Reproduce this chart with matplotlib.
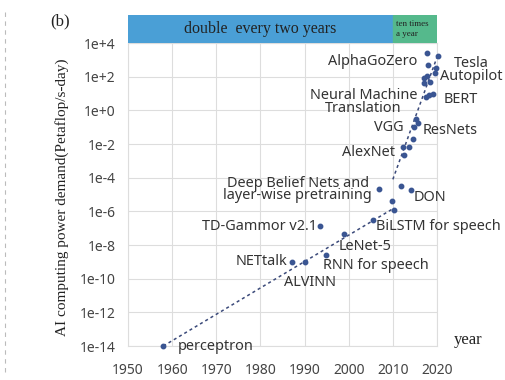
from matplotlib import pyplot as plt
from matplotlib.lines import Line2D
import numpy as np

# (year, log10 of petaflop/s-days) for every dot
dot_years = [1958, 1987.2, 1990, 1994.8, 1998.9, 1993.4, 2005.5, 2010.3, 2009.7,
             2006.8, 2011.9, 2014.2, 2012.2, 2013.7, 2012.6, 2014.6,
             2014.8, 2015.7, 2015.3, 2017.6, 2018.3, 2019.0,
             2017.1, 2017.8, 2018.5, 2019.5, 2017.1, 2019.8,
             2017.7, 2020.2, 2018.0]
dot_logs = [-14.0, -9.0, -9.0, -8.6, -7.35, -6.9, -6.5, -5.9, -5.4,
            -4.7, -4.5, -4.73, -2.16, -2.16, -2.65, -1.72,
            -1.0, -0.75, -0.5, 0.8, 0.9, 0.95,
            1.9, 2.05, 1.7, 2.2, 1.6, 2.5,
            3.4, 3.2, 2.7]

# two trend segments
trend1_years = [1958, 2010.3]
trend1_logs = [-14.0, -5.8]
trend2_years = [2010.0, 2020.2]
trend2_logs = [-4.1, 3.3]

# labels: text, year, log10, horizontal alignment
label_texts = ["perceptron", "NETtalk", "ALVINN", "RNN for speech", "LeNet-5",
               "TD-Gammor v2.1", "BiLSTM for speech",
               "Deep Belief Nets and\nlayer-wise pretraining", "DON", "AlexNet",
               "VGG", "ResNets", "Neural Machine\nTranslation", "BERT",
               "Tesla\nAutopilot", "AlphaGoZero"]
label_years = [1961.3, 1986.0, 1991.2, 1994.2, 1997.8, 1992.8, 2006.2, 2005.3,
               2014.6, 2010.5, 2012.5, 2016.8, 2015.5, 2021.4, 2027.7, 2015.5]
label_logs = [-14.0, -9.0, -10.2, -9.2, -8.1, -6.93, -6.93, -4.7,
              -5.15, -2.5, -1.0, -1.2, 0.5, 0.67, 2.4, 2.93]
label_ha = ["left", "right", "center", "left", "left", "right", "left", "right",
            "left", "right", "right", "left", "right", "left", "center", "right"]

ytick_exps = [4, 2, 0, -2, -4, -6, -8, -10, -12, -14]
xticks = [1950, 1960, 1970, 1980, 1990, 2000, 2010, 2020]

fig = plt.figure(figsize=(5.06, 3.8), dpi=100)
ax = fig.add_axes([128 / 506, 1 - 346 / 380, 309 / 506, 303 / 380])

ax.plot(trend1_years, 10.0 ** np.array(trend1_logs), color="#3b4a7a",
        linestyle=(0, (2, 2)), linewidth=1.1)
ax.plot(trend2_years, 10.0 ** np.array(trend2_logs), color="#3b4a7a",
        linestyle=(0, (2, 2)), linewidth=1.1)
ax.plot(dot_years, 10.0 ** np.array(dot_logs), "o", color="#3a5592",
        markersize=3.2, zorder=3, clip_on=False)

for txt, yr, lg, ha in zip(label_texts, label_years, label_logs, label_ha):
    ax.text(yr, 10.0 ** lg, txt, ha=ha, va="center", fontsize=10.4,
            family="Noto Sans", color="#333333", linespacing=0.75,
            multialignment="center", clip_on=False)

ax.set_yscale("log")
ax.set_xlim(1950, 2020)
ax.set_ylim(1e-14, 1e4)
ax.set_yticks([10.0 ** e for e in ytick_exps])
ax.set_yticklabels([f"1e{e:+d}" if e != 0 else "1e+0" for e in ytick_exps])
ax.yaxis.set_minor_locator(plt.NullLocator())
ax.set_xticks(xticks)
ax.tick_params(length=0, labelsize=10, labelcolor="#444444")
ax.tick_params(axis="y", pad=9)
ax.tick_params(axis="x", pad=12)
for lab in ax.get_xticklabels() + ax.get_yticklabels():
    lab.set_family("Noto Sans")
ax.grid(True, color="#dddddd", linewidth=0.8)
for s in ax.spines.values():
    s.set_color("#dddddd")
ax.set_axisbelow(True)

ax.set_ylabel("AI computing power demand(Petaflop/s-day)", family="Liberation Serif",
              fontsize=11, color="#222222")
ax.yaxis.set_label_coords(-0.192, 0.49)

# banner on top
bax = fig.add_axes([128 / 506, 1 - 43 / 380, 309 / 506, 28 / 380])
bax.set_xlim(1950, 2020)
bax.set_ylim(0, 1)
bax.axvspan(1950, 2010, color="#4a9fd6")
bax.axvspan(2010, 2020, color="#55b98c")
bax.text(1980, 0.5, "double  every two years", ha="center", va="center",
         family="Liberation Serif", fontsize=11.5, color="#222222")
bax.text(2010.6, 0.5, "ten times\na year", ha="left", va="center",
         family="Liberation Serif", fontsize=6.5, color="#222222", linespacing=1.3)
bax.axis("off")

fig.text(60 / 506, 1 - 21 / 380, "(b)", ha="center", va="center",
         family="Liberation Serif", fontsize=12, color="#222222")
fig.text(468 / 506, 1 - 340 / 380, "year", ha="center", va="center",
         family="Liberation Serif", fontsize=12, color="#222222")
fig.add_artist(Line2D([5 / 506, 5 / 506], [0.02, 0.98], color="#bbbbbb",
                      linestyle=(0, (4, 4)), linewidth=0.8))

plt.savefig("out.png", dpi=100)
